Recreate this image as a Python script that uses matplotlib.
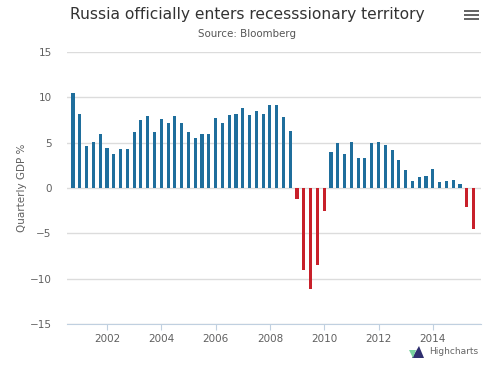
import matplotlib
matplotlib.use("Agg")
import matplotlib.pyplot as plt
from matplotlib.patches import Polygon, Rectangle
import numpy as np

# Quarterly GDP % (Q4 2000 .. Q3 2015)
start_year = 2000.75
gdp = [10.5, 8.2, 4.65, 5.05, 5.9, 4.45, 3.8, 4.35, 4.35, 6.15,
       7.5, 7.95, 6.15, 7.6, 7.15, 7.95, 7.2, 6.15, 5.55, 5.9,
       5.9, 7.7, 7.2, 8.05, 8.15, 8.8, 8.0, 8.5, 8.15, 9.1,
       9.1, 7.8, 6.3, -1.2, -9.05, -11.1, -8.45, -2.5, 4.0, 4.95,
       3.75, 5.05, 3.25, 3.25, 4.95, 5.1, 4.7, 4.15, 3.1, 2.0,
       0.75, 1.2, 1.3, 2.1, 0.65, 0.75, 0.9, 0.4, -2.1, -4.5]
year_ticks = [2002, 2004, 2006, 2008, 2010, 2012, 2014]
y_ticks = [-15, -10, -5, 0, 5, 10, 15]
title = "Russia officially enters recesssionary territory"
subtitle = "Source: Bloomberg"
ylabel = "Quarterly GDP %"

x = start_year + 0.25 * np.arange(len(gdp))
vals = np.array(gdp)
colors = np.where(vals >= 0, "#1f6e9c", "#c8202a")

fig = plt.figure(figsize=(5.0, 3.71), dpi=100)
fig.patch.set_facecolor("white")
ax = fig.add_axes([0.134, 0.1267, 0.828, 0.7333])

ax.bar(x, vals, width=0.115, color=colors, zorder=3, linewidth=0)

ax.set_ylim(-15, 15)
ax.set_xlim(2000.527, 2015.775)
ax.set_yticks(y_ticks)
ax.set_xticks(year_ticks)
ax.set_xticklabels([str(t) for t in year_ticks])
ax.grid(axis="y", color="#dcdcdc", linewidth=1, zorder=0)
ax.grid(axis="x", visible=False)
for s in ["top", "right", "left"]:
    ax.spines[s].set_visible(False)
ax.spines["bottom"].set_color("#c0d0e0")
ax.spines["bottom"].set_position(("data", -15))
ax.tick_params(axis="y", length=0, labelsize=7.5, labelcolor="#606060", pad=11)
ax.tick_params(axis="x", length=4, color="#c0d0e0", labelsize=7.5,
               labelcolor="#606060", pad=3)
ax.set_ylabel(ylabel, fontsize=7.5, color="#606060")
ax.yaxis.set_label_coords(-0.097, 0.5)

fig.text(0.494, 0.962, title, ha="center", va="center", fontsize=11.2, color="#333333")
fig.text(0.494, 0.908, subtitle, ha="center", va="center", fontsize=7.4, color="#555555")

# menu icon
for yy in [11, 15, 19]:
    fig.add_artist(Rectangle((464 / 500, 1 - (yy + 1) / 371), 15 / 500, 2 / 371,
                             transform=fig.transFigure, color="#666666", lw=0))

# credits
fig.text(0.956, 0.052, "Highcharts", ha="right", va="center", fontsize=6.5, color="#666666")
fig.add_artist(Polygon([[412 / 500, 1 - 358 / 371], [419 / 500, 1 - 346 / 371], [424 / 500, 1 - 358 / 371]],
                       closed=True, transform=fig.transFigure, color="#2f2f6f", lw=0))
fig.add_artist(Polygon([[409 / 500, 1 - 350 / 371], [416 / 500, 1 - 350 / 371], [413 / 500, 1 - 358 / 371]],
                       closed=True, transform=fig.transFigure, color="#7ad3a0", lw=0))

fig.savefig("out.png", dpi=100)
